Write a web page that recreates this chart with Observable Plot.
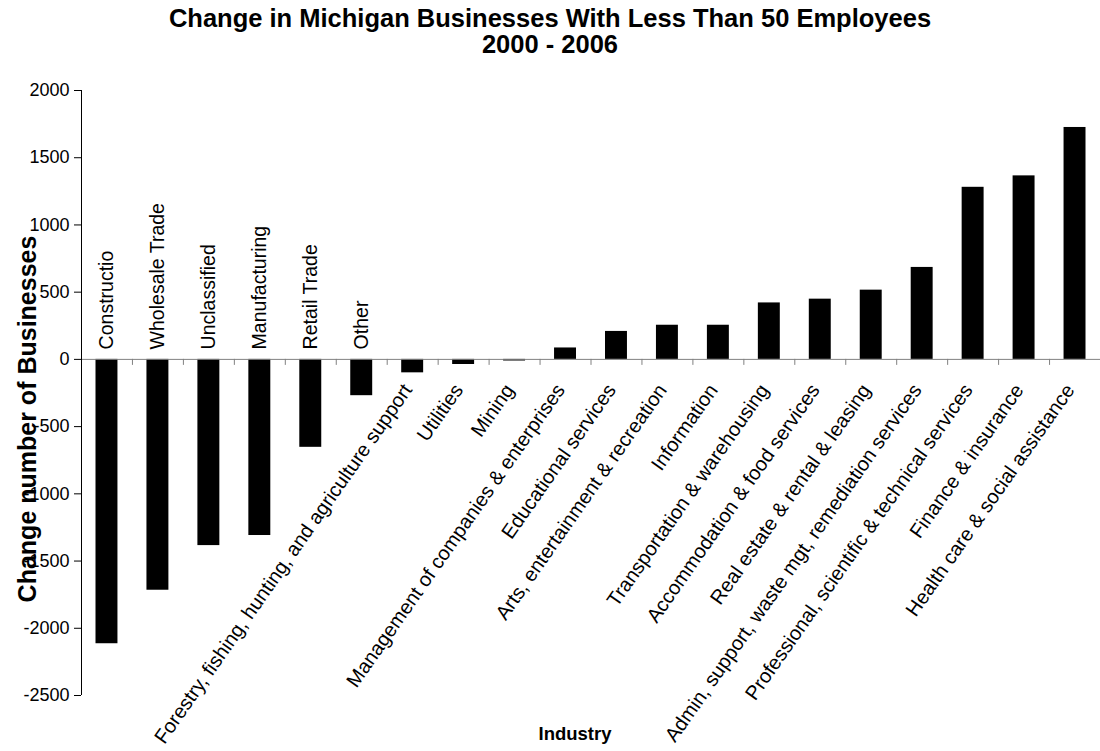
<!DOCTYPE html>
<html>
<head>
<meta charset="utf-8">
<script src="https://cdn.jsdelivr.net/npm/d3@7"></script>
<script src="https://cdn.jsdelivr.net/npm/@observablehq/plot@0.6"></script>
<style>
  html, body { margin: 0; padding: 0; background: #ffffff; }
  #wrap { width: 1100px; font-family: "Liberation Sans", Arial, sans-serif; }
  #title { height: 64px; box-sizing: border-box; padding-top: 5px; text-align: center;
           font-weight: bold; font-size: 25.5px; line-height: 26px; color: #000; }
  svg { display: block; }
</style>
</head>
<body>
<div id="wrap">
  <div id="title"><span id="t1"></span><br><span id="t2"></span></div>
  <div id="chart"></div>
</div>
<script>
const titleText = "Change in Michigan Businesses With Less Than 50 Employees";
const subtitleText = "2000 - 2006";
const yTitle = "Change number of Businesses";
const xTitle = "Industry";

const categories = [
  "Constructio",
  "Wholesale Trade",
  "Unclassified",
  "Manufacturing",
  "Retail Trade",
  "Other",
  "Forestry, fishing, hunting, and agriculture support",
  "Utilities",
  "Mining",
  "Management of companies & enterprises",
  "Educational services",
  "Arts, entertainment & recreation",
  "Information",
  "Transportation & warehousing",
  "Accommodation & food services",
  "Real estate & rental & leasing",
  "Admin, support, waste mgt, remediation services",
  "Professional, scientific & technical services",
  "Finance & insurance",
  "Health care & social assistance"
];

const values = [
  -2115, -1717, -1385, -1310, -654, -270, -100, -38, -12,
  85, 208, 254, 254, 420, 448, 515, 684, 1280, 1365, 1725
];

const yTicks = [-2500, -2000, -1500, -1000, -500, 0, 500, 1000, 1500, 2000];
const yTickLabels = ["-2500", "-2000", "-1500", "-1000", "-500", "0", "500", "1000", "1500", "2000"];

document.getElementById("t1").textContent = titleText;
document.getElementById("t2").textContent = subtitleText;

const data = categories.map((label, i) => ({label, value: values[i], i}));
const boundaries = d3.range(1, categories.length + 1);
const verticalCount = 6;

const chart = Plot.plot({
  width: 1100,
  height: 687,
  marginTop: 26,
  marginBottom: 56,
  marginLeft: 81,
  marginRight: 0,
  style: {fontFamily: "'Liberation Sans', Arial, sans-serif", background: "#ffffff", color: "#000000", overflow: "visible"},
  x: {domain: [0, categories.length], axis: null},
  y: {domain: [-2500, 2000], axis: null},
  marks: [
    Plot.rectY(data, {x1: d => d.i, x2: d => d.i + 1, y1: 0, y2: "value", insetLeft: 14.5, insetRight: 14.5, fill: "#000000"}),
    Plot.ruleY([0], {stroke: "#808080", strokeWidth: 1}),
    Plot.ruleX(boundaries, {x: d => d, y1: 0, y2: 0, insetBottom: -6, stroke: "#808080"}),
    Plot.axisY({ticks: yTicks, tickFormat: d => yTickLabels[yTicks.indexOf(d)], tickSize: 7, tickPadding: 5, fontSize: 18, label: null, stroke: "#000000"}),
    Plot.ruleX([0], {y1: -2500, y2: 2000, stroke: "#000000"}),
    Plot.text(data.filter(d => d.i < verticalCount), {
      x: d => d.i + 0.5, y: 0, text: "label", rotate: -90,
      textAnchor: "start", lineAnchor: "middle", dy: -10, fontSize: 19.5, fill: "#000000"
    }),
    Plot.text(data.filter(d => d.i >= verticalCount), {
      x: d => d.i + 0.5, y: 0, text: "label", rotate: -55,
      textAnchor: "end", lineAnchor: "middle", dx: -5, dy: 27, fontSize: 20, fill: "#000000"
    }),
    Plot.text([yTitle], {text: d => d, frameAnchor: "left", textAnchor: "middle", rotate: -90, dx: -54, dy: 26, fontSize: 25, fontWeight: "bold", fill: "#000000"}),
    Plot.text([xTitle], {text: d => d, frameAnchor: "bottom", textAnchor: "middle", dx: -16, dy: 44, fontSize: 18.5, fontWeight: "bold", fill: "#000000"})
  ]
});
document.getElementById("chart").appendChild(chart);
</script>
</body>
</html>
